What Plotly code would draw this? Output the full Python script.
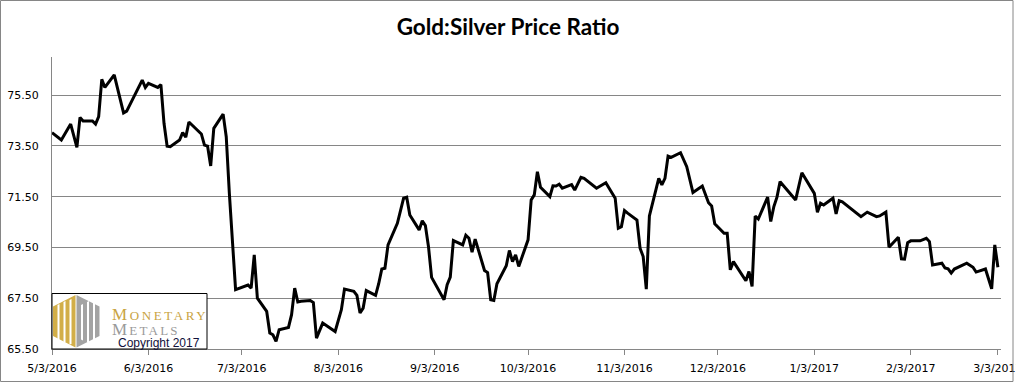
import plotly.graph_objects as go

dates = [
    "2016-05-03", "2016-05-06", "2016-05-09", "2016-05-11", "2016-05-12", "2016-05-13",
    "2016-05-16", "2016-05-17", "2016-05-18", "2016-05-19", "2016-05-20", "2016-05-23",
    "2016-05-26", "2016-05-27", "2016-06-01", "2016-06-02", "2016-06-03", "2016-06-06",
    "2016-06-07", "2016-06-08", "2016-06-09", "2016-06-10", "2016-06-13", "2016-06-14",
    "2016-06-15", "2016-06-16", "2016-06-20", "2016-06-21", "2016-06-22", "2016-06-23",
    "2016-06-24", "2016-06-27", "2016-06-28", "2016-06-29", "2016-07-01", "2016-07-05",
    "2016-07-06", "2016-07-07", "2016-07-08", "2016-07-11", "2016-07-12", "2016-07-13",
    "2016-07-14", "2016-07-15", "2016-07-18", "2016-07-19", "2016-07-20", "2016-07-21",
    "2016-07-22", "2016-07-25", "2016-07-26", "2016-07-27", "2016-07-29", "2016-08-02",
    "2016-08-04", "2016-08-05", "2016-08-08", "2016-08-09", "2016-08-10", "2016-08-11",
    "2016-08-12", "2016-08-15", "2016-08-16", "2016-08-17", "2016-08-18", "2016-08-19",
    "2016-08-22", "2016-08-23", "2016-08-24", "2016-08-25", "2016-08-26", "2016-08-29",
    "2016-08-30", "2016-08-31", "2016-09-01", "2016-09-02", "2016-09-06", "2016-09-07",
    "2016-09-08", "2016-09-09", "2016-09-12", "2016-09-13", "2016-09-14", "2016-09-15",
    "2016-09-16", "2016-09-19", "2016-09-20", "2016-09-21", "2016-09-22", "2016-09-23",
    "2016-09-26", "2016-09-27", "2016-09-28", "2016-09-29", "2016-09-30", "2016-10-03",
    "2016-10-04", "2016-10-05", "2016-10-06", "2016-10-07", "2016-10-10", "2016-10-11",
    "2016-10-12", "2016-10-13", "2016-10-14", "2016-10-17", "2016-10-18", "2016-10-20",
    "2016-10-21", "2016-10-25", "2016-10-28", "2016-10-31", "2016-11-01", "2016-11-02",
    "2016-11-03", "2016-11-04", "2016-11-07", "2016-11-08", "2016-11-09", "2016-11-10",
    "2016-11-11", "2016-11-14", "2016-11-15", "2016-11-16", "2016-11-17", "2016-11-18",
    "2016-11-21", "2016-11-23", "2016-11-25", "2016-11-28", "2016-11-30", "2016-12-01",
    "2016-12-02", "2016-12-05", "2016-12-06", "2016-12-07", "2016-12-08", "2016-12-12",
    "2016-12-13", "2016-12-14", "2016-12-15", "2016-12-16", "2016-12-19", "2016-12-20",
    "2016-12-21", "2016-12-22", "2016-12-23", "2016-12-28", "2016-12-30", "2017-01-03",
    "2017-01-04", "2017-01-05", "2017-01-06", "2017-01-09", "2017-01-10", "2017-01-11",
    "2017-01-12", "2017-01-18", "2017-01-20", "2017-01-23", "2017-01-24", "2017-01-26",
    "2017-01-27", "2017-01-30", "2017-01-31", "2017-02-01", "2017-02-02", "2017-02-03",
    "2017-02-06", "2017-02-08", "2017-02-09", "2017-02-10", "2017-02-13", "2017-02-14",
    "2017-02-15", "2017-02-16", "2017-02-17", "2017-02-21", "2017-02-23", "2017-02-24",
    "2017-02-27", "2017-03-01", "2017-03-02", "2017-03-03",
]

ratio = [
    74.02, 73.73, 74.36, 73.44, 74.62, 74.48,
    74.48, 74.36, 74.65, 76.12, 75.80, 76.30,
    74.80, 74.87, 76.09, 75.80, 75.96, 75.80,
    75.91, 74.39, 73.49, 73.47, 73.73, 74.02,
    73.84, 74.44, 73.97, 73.53, 73.49, 72.71,
    74.19, 74.75, 73.86, 71.63, 67.84, 68.02,
    67.90, 69.21, 67.50, 66.98, 66.13, 66.06,
    65.80, 66.26, 66.35, 66.85, 67.90, 67.35,
    67.38, 67.41, 67.33, 65.93, 66.52, 66.19,
    67.05, 67.86, 67.77, 67.61, 66.92, 67.11,
    67.80, 67.61, 68.07, 68.65, 68.68, 69.60,
    70.45, 70.95, 71.44, 71.48, 70.78, 70.19,
    70.55, 70.36, 69.53, 68.32, 67.44, 68.03,
    68.33, 69.77, 69.60, 69.98, 69.86, 69.31,
    69.83, 68.59, 68.51, 67.44, 67.41, 68.07,
    68.78, 69.38, 68.94, 69.21, 68.75, 69.80,
    71.37, 71.57, 72.48, 71.87, 71.50, 71.93,
    71.92, 71.99, 71.83, 71.97, 71.76, 72.26,
    72.22, 71.83, 72.05, 71.44, 70.26, 70.32,
    70.95, 70.85, 70.58, 69.47, 69.14, 67.86,
    70.74, 72.22, 71.96, 72.22, 73.10, 73.05,
    73.23, 72.68, 71.66, 71.92, 71.26, 71.13,
    70.43, 70.06, 70.06, 68.62, 68.94, 68.19,
    68.55, 67.96, 70.74, 70.62, 71.48, 70.52,
    71.11, 71.48, 72.09, 71.37, 72.44, 71.63,
    70.89, 71.24, 71.17, 71.44, 70.82, 71.34,
    71.30, 70.71, 70.89, 70.71, 70.74, 70.89,
    69.51, 69.90, 69.05, 69.04, 69.69, 69.76,
    69.76, 69.86, 69.73, 68.81, 68.88, 68.69,
    68.66, 68.49, 68.65, 68.88, 68.72, 68.53,
    68.65, 67.87, 69.60, 68.72,
]

tick_dates = ["2016-05-03", "2016-06-03", "2016-07-03", "2016-08-03", "2016-09-03",
              "2016-10-03", "2016-11-03", "2016-12-03", "2017-01-03", "2017-02-03",
              "2017-03-03"]
tick_labels = ["5/3/2016", "6/3/2016", "7/3/2016", "8/3/2016", "9/3/2016",
               "10/3/2016", "11/3/2016", "12/3/2016", "1/3/2017", "2/3/2017",
               "3/3/2017"]
y_ticks = [65.5, 67.5, 69.5, 71.5, 73.5, 75.5]

W, H = 1016, 383
L, R, T, B = 52, 15, 57, 34
PW = W - L - R
PH = H - T - B


def px(x):
    return (x - L) / PW


def py(y):
    return (H - B - y) / PH


GRID = "#868686"
GOLD = "#D2AE48"
GREY = "#A3A3A3"

fig = go.Figure()
fig.add_trace(go.Scatter(
    x=dates, y=ratio, mode="lines",
    line=dict(color="black", width=3),
    showlegend=False, hoverinfo="x+y",
))

shapes = []
# outer chart frame
shapes.append(dict(type="rect", xref="paper", yref="paper",
                   x0=px(0.5), x1=px(1013), y0=py(381.5), y1=py(0.5),
                   line=dict(color=GRID, width=1), fillcolor="rgba(0,0,0,0)",
                   layer="above"))
# logo box
shapes.append(dict(type="rect", xref="paper", yref="paper",
                   x0=px(52), x1=px(207), y0=py(349), y1=py(293.5),
                   line=dict(color="black", width=1), fillcolor="white",
                   layer="above"))


def poly(pts, color):
    d = "M " + " L ".join(f"{px(a):.5f},{py(b):.5f}" for a, b in pts) + " Z"
    return dict(type="path", xref="paper", yref="paper", path=d,
                fillcolor=color, line=dict(width=0), layer="above")


# hexagon halves
shapes.append(poly([(75.5, 295), (75.5, 347.5), (53, 336), (53, 306.5)], GOLD))
shapes.append(poly([(76.5, 295), (99.5, 306.5), (99.5, 336), (76.5, 347.5)], GREY))
# white M-strokes inside each half
for base in (0, 23.5):
    shapes.append(poly([(base + 57.5, 305), (base + 59.5, 304), (base + 59.5, 340.5), (base + 57.5, 339.5)], "white"))
    shapes.append(poly([(base + 63.5, 302), (base + 65.5, 301), (base + 65.5, 342.5), (base + 63.5, 342)], "white"))
    shapes.append(poly([(base + 69.5, 300), (base + 71.5, 299), (base + 71.5, 344), (base + 69.5, 344.5)], "white"))

annotations = [
    dict(xref="paper", yref="paper", x=px(109.5), y=py(314.5), xanchor="left", yanchor="middle",
         showarrow=False,
         text="<span style='letter-spacing:2.6px'>M</span><span style='font-size:13px;letter-spacing:2.6px'>ONETARY</span>",
         font=dict(family="Liberation Serif", size=17, color="#C9A443")),
    dict(xref="paper", yref="paper", x=px(109.5), y=py(329.5), xanchor="left", yanchor="middle",
         showarrow=False,
         text="<span style='letter-spacing:2.2px'>M</span><span style='font-size:13px;letter-spacing:2.2px'>ETALS</span>",
         font=dict(family="Liberation Serif", size=17, color="#9A9A9A")),
    dict(xref="paper", yref="paper", x=px(202), y=py(342.5), xanchor="right", yanchor="middle",
         showarrow=False, text="Copyright 2017",
         font=dict(family="Liberation Sans", size=12, color="#10103a")),
]

fig.update_layout(
    width=W, height=H,
    margin=dict(l=L, r=R, t=T, b=B, pad=0, autoexpand=False),
    paper_bgcolor="white", plot_bgcolor="white",
    title=dict(text="Gold:Silver Price Ratio", x=0.5, xref="container", xanchor="center",
               y=1 - 27 / H, yref="container", yanchor="middle",
               font=dict(family="Lato", size=22.5, color="black", weight="bold")),
    shapes=shapes,
    annotations=annotations,
    showlegend=False,
)
fig.update_xaxes(
    type="date", range=["2016-05-03", "2017-03-04"], automargin=False,
    tickmode="array", tickvals=tick_dates, ticktext=tick_labels,
    showgrid=False, zeroline=False,
    showline=True, linecolor=GRID, linewidth=1,
    ticks="outside", ticklen=5, tickcolor=GRID, tickwidth=1,
    ticklabelstandoff=4, ticklabeloverflow="allow",
    tickfont=dict(family="DejaVu Sans", size=11, color="black"),
)
fig.update_yaxes(
    range=[65.5, 77.0], automargin=False,
    tickmode="array", tickvals=y_ticks, tickformat=".2f",
    showgrid=True, gridcolor=GRID, gridwidth=1, zeroline=False,
    showline=True, linecolor=GRID, linewidth=1,
    ticks="", ticklabelstandoff=10,
    tickfont=dict(family="DejaVu Sans", size=11, color="black"),
)

fig.write_html(
    "out.html",
    config={"displayModeBar": False},
    post_script="document.body.style.margin='0';document.body.style.overflow='hidden';",
)
